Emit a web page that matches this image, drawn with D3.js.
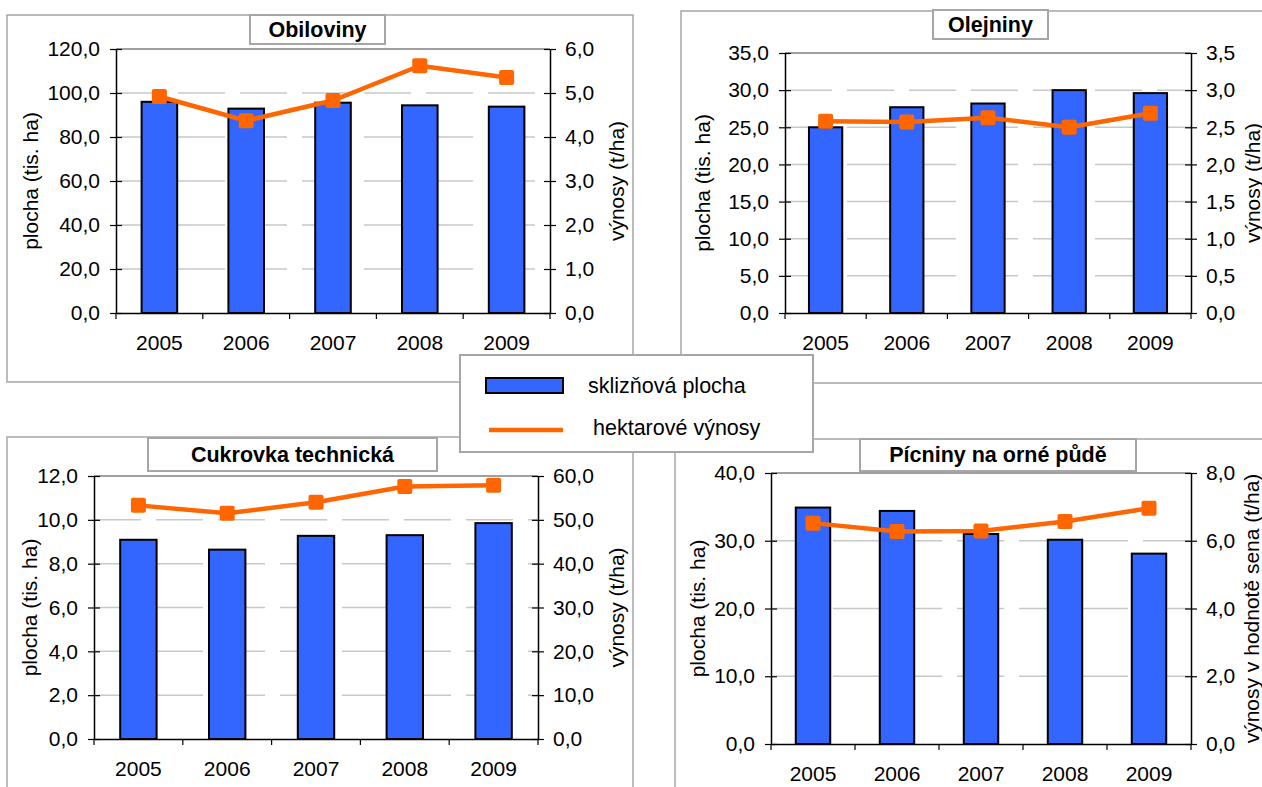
<!DOCTYPE html>
<html>
<head>
<meta charset="utf-8">
<script src="https://cdn.jsdelivr.net/npm/d3@7"></script>
<style>
  body { margin: 0; background: #fff; }
  svg { display: block; font-family: "Liberation Sans", Arial, sans-serif; }
</style>
</head>
<body>
<svg></svg>
<script>
const years = ["2005", "2006", "2007", "2008", "2009"];

const obilovinyPlocha = [96.0, 92.9, 95.6, 94.4, 93.8];
const obilovinyVynosy = [4.92, 4.37, 4.83, 5.62, 5.35];
const olejninyPlocha = [25.0, 27.7, 28.2, 30.0, 29.6];
const olejninyVynosy = [2.58, 2.57, 2.63, 2.50, 2.69];
const cukrovkaPlocha = [9.09, 8.64, 9.27, 9.30, 9.85];
const cukrovkaVynosy = [53.3, 51.5, 54.0, 57.6, 57.9];
const picninyPlocha = [34.9, 34.4, 31.0, 30.15, 28.1];
const picninyVynosy = [6.52, 6.27, 6.29, 6.57, 6.96];

const legendLabels = ["sklizňová plocha", "hektarové výnosy"];

const barColor = "#3366ff";
const lineColor = "#ff6600";

const panels = [
  { title: "Obiloviny", plocha: obilovinyPlocha, vynosy: obilovinyVynosy,
    left: [120, 20], right: [6, 1], rightLabel: "výnosy (t/ha)",
    frame: [7, 15, 633, 382], titleBox: [250, 15, 385, 44], plot: [116, 49, 550, 313], lx: 30, rx: 616 },
  { title: "Olejniny", plocha: olejninyPlocha, vynosy: olejninyVynosy,
    left: [35, 5], right: [3.5, 0.5], rightLabel: "výnosy (t/ha)",
    frame: [681, 11, 1280, 383], titleBox: [933, 10, 1048, 39], plot: [785, 53, 1191, 313], lx: 702, rx: 1252 },
  { title: "Cukrovka technická", plocha: cukrovkaPlocha, vynosy: cukrovkaVynosy,
    left: [12, 2], right: [60, 10], rightLabel: "výnosy (t/ha)",
    frame: [7, 437, 633, 800], titleBox: [148, 438, 437, 471], plot: [94, 476, 538, 739], lx: 29, rx: 616 },
  { title: "Pícniny na orné půdě", plocha: picninyPlocha, vynosy: picninyVynosy,
    left: [40, 10], right: [8, 2], rightLabel: "výnosy v hodnotě sena (t/ha)",
    frame: [675, 439, 1280, 800], titleBox: [860, 439, 1136, 471], plot: [771, 473, 1191, 744], lx: 697, rx: 1251 }
];

const svg = d3.select("svg").attr("width", 1262).attr("height", 787);
const fmt = (v) => d3.format(".1f")(v).replace(".", ",");

panels.forEach((p) => {
  const [fx0, fy0, fx1, fy1] = p.frame;
  svg.append("rect")
    .attr("x", fx0).attr("y", fy0)
    .attr("width", fx1 - fx0).attr("height", fy1 - fy0)
    .attr("fill", "#fff").attr("stroke", "#a6a6a6").attr("stroke-width", 1.5);

  const [x0, y0, x1, y1] = p.plot;
  const x = d3.scaleBand().domain(years).range([x0, x1]).paddingInner(0.59).paddingOuter(0.295);
  const yL = d3.scaleLinear().domain([0, p.left[0]]).range([y1, y0]);
  const yR = d3.scaleLinear().domain([0, p.right[0]]).range([y1, y0]);
  const leftTicks = d3.range(0, p.left[0] + p.left[1] / 2, p.left[1]);
  const rightTicks = d3.range(0, p.right[0] + p.right[1] / 2, p.right[1]);

  // gridlines
  svg.append("g").selectAll("line")
    .data(leftTicks.slice(1, -1))
    .join("line")
    .attr("x1", x0).attr("x2", x1)
    .attr("y1", (d) => yL(d)).attr("y2", (d) => yL(d))
    .attr("stroke", "#c8c8c8").attr("stroke-width", 1.5)
    .attr("stroke-dasharray", "47,15");

  // plot area top border
  svg.append("line")
    .attr("x1", x0).attr("x2", x1).attr("y1", y0).attr("y2", y0)
    .attr("stroke", "#808080").attr("stroke-width", 1.5);

  // bars
  svg.append("g").selectAll("rect")
    .data(p.plocha)
    .join("rect")
    .attr("x", (d, i) => x(years[i]))
    .attr("y", (d) => yL(d))
    .attr("width", x.bandwidth())
    .attr("height", (d) => y1 - yL(d))
    .attr("fill", barColor).attr("stroke", "#000").attr("stroke-width", 2);

  // axes
  const gl = svg.append("g")
    .attr("transform", `translate(${x0},0)`)
    .call(d3.axisLeft(yL).tickValues(leftTicks).tickFormat(fmt).tickSizeInner(6).tickSizeOuter(0).tickPadding(10));
  const gr = svg.append("g")
    .attr("transform", `translate(${x1},0)`)
    .call(d3.axisRight(yR).tickValues(rightTicks).tickFormat(fmt).tickSizeInner(6).tickSizeOuter(0).tickPadding(9));
  [gl, gr].forEach((g) => {
    g.select(".domain").attr("stroke", "#000").attr("stroke-width", 1.5);
    g.selectAll(".tick line").attr("x1", -6).attr("x2", 6).attr("stroke", "#000").attr("stroke-width", 1.2);
    g.selectAll(".tick text").attr("font-size", 21).attr("fill", "#000")
      .attr("font-family", "'Liberation Sans', Arial, sans-serif");
  });

  const gx = svg.append("g")
    .attr("transform", `translate(0,${y1})`)
    .call(d3.axisBottom(x).tickSize(0).tickPadding(22));
  gx.select(".domain").attr("stroke", "#000").attr("stroke-width", 1.5);
  gx.selectAll(".tick text").attr("font-size", 21).attr("fill", "#000")
    .attr("font-family", "'Liberation Sans', Arial, sans-serif");
  // category separators below the axis
  const step = x.step();
  svg.append("g").selectAll("line")
    .data(d3.range(years.length + 1))
    .join("line")
    .attr("x1", (i) => x0 + i * step).attr("x2", (i) => x0 + i * step)
    .attr("y1", y1).attr("y2", y1 + 6)
    .attr("stroke", "#000").attr("stroke-width", 1.2);

  // line series
  const line = d3.line()
    .x((d, i) => x(years[i]) + x.bandwidth() / 2)
    .y((d) => yR(d));
  svg.append("path")
    .datum(p.vynosy)
    .attr("d", line)
    .attr("fill", "none").attr("stroke", lineColor).attr("stroke-width", 4.5)
    .attr("stroke-linejoin", "round");
  svg.append("g").selectAll("rect")
    .data(p.vynosy)
    .join("rect")
    .attr("x", (d, i) => x(years[i]) + x.bandwidth() / 2 - 7.5)
    .attr("y", (d) => yR(d) - 7.5)
    .attr("width", 15).attr("height", 15).attr("rx", 2)
    .attr("fill", lineColor);

  // axis titles
  const cy = (y0 + y1) / 2;
  svg.append("text")
    .attr("transform", `translate(${p.lx},${cy}) rotate(-90)`)
    .attr("text-anchor", "middle").attr("dominant-baseline", "central")
    .attr("font-size", 21).text("plocha (tis. ha)");
  svg.append("text")
    .attr("transform", `translate(${p.rx},${cy}) rotate(-90)`)
    .attr("text-anchor", "middle").attr("dominant-baseline", "central")
    .attr("font-size", 21).text(p.rightLabel);

  // title box
  const [tx0, ty0, tx1, ty1] = p.titleBox;
  svg.append("rect")
    .attr("x", tx0).attr("y", ty0).attr("width", tx1 - tx0).attr("height", ty1 - ty0)
    .attr("fill", "#fff").attr("stroke", "#a6a6a6").attr("stroke-width", 2);
  svg.append("text")
    .attr("x", (tx0 + tx1) / 2).attr("y", (ty0 + ty1) / 2)
    .attr("text-anchor", "middle").attr("dominant-baseline", "central")
    .attr("font-size", 21.5).attr("font-weight", "bold").text(p.title);
});

// legend
const legend = svg.append("g");
legend.append("rect")
  .attr("x", 460).attr("y", 355).attr("width", 353).attr("height", 97)
  .attr("fill", "#fff").attr("stroke", "#a6a6a6").attr("stroke-width", 2);
legend.append("rect")
  .attr("x", 486).attr("y", 378).attr("width", 77).attr("height", 15)
  .attr("fill", barColor).attr("stroke", "#000").attr("stroke-width", 2);
legend.append("line")
  .attr("x1", 489).attr("x2", 563).attr("y1", 430).attr("y2", 430)
  .attr("stroke", lineColor).attr("stroke-width", 4.5);
legend.selectAll("text.lbl")
  .data(legendLabels)
  .join("text")
  .attr("class", "lbl")
  .attr("x", (d, i) => i === 0 ? 588 : 593)
  .attr("y", (d, i) => i === 0 ? 386 : 428)
  .attr("dominant-baseline", "central")
  .attr("font-size", 21.5)
  .text((d) => d);
</script>
</body>
</html>
